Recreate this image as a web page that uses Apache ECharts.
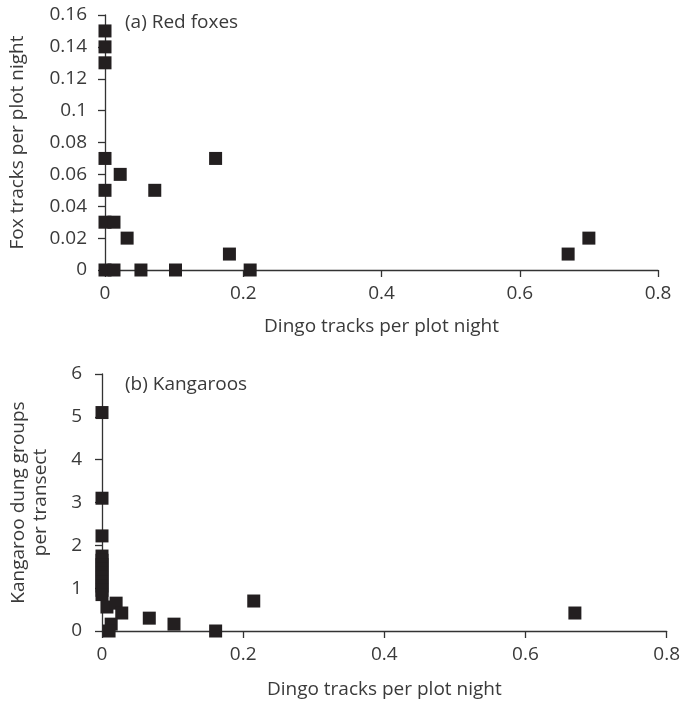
<!DOCTYPE html>
<html><head><meta charset="utf-8">
<script src="https://cdn.jsdelivr.net/npm/echarts@6/dist/echarts.min.js"></script>
<style>html,body{margin:0;padding:0;background:#fff}#c{width:683px;height:705px}</style>
</head><body><div id="c"></div>
<script>
// Panel (a) Red foxes: dingo tracks (x) vs fox tracks (y)
const foxX = [0, 0, 0, 0, 0.022, 0, 0.072, 0.16, 0, 0.013, 0.032, 0.18, 0, 0.013, 0.052, 0.102, 0.21, 0.67, 0.70];
const foxY = [0.15, 0.14, 0.13, 0.07, 0.06, 0.05, 0.05, 0.07, 0.03, 0.03, 0.02, 0.01, 0, 0, 0, 0, 0, 0.01, 0.02];
// Panel (b) Kangaroos: dingo tracks (x) vs kangaroo dung groups (y)
const kanX = [0, 0, 0, 0, 0, 0, 0, 0, 0, 0, 0, 0, 0, 0.007, 0.02, 0.028, 0.013, 0.01, 0.067, 0.102, 0.161, 0.215, 0.67];
const kanY = [5.1, 3.1, 2.22, 1.75, 1.65, 1.55, 1.45, 1.35, 1.25, 1.15, 1.05, 0.95, 0.85, 0.56, 0.65, 0.42, 0.16, 0, 0.3, 0.16, 0, 0.7, 0.42];
const xTicks = [0, 0.2, 0.4, 0.6, 0.8];
const foxYTicks = [0, 0.02, 0.04, 0.06, 0.08, 0.1, 0.12, 0.14, 0.16];
const kanYTicks = [0, 1, 2, 3, 4, 5, 6];

const FONT = '"Open Sans", "Noto Sans", sans-serif';
const TXT = '#3a3a3a';
const FS = 19;
const axisCommon = {
  axisLine: {show: true, onZero: false, lineStyle: {color: '#333', width: 1.3}},
  axisTick: {show: true, length: 7, lineStyle: {color: '#333', width: 1.3}},
  splitLine: {show: false},
  nameTextStyle: {color: TXT, fontSize: FS, fontFamily: FONT}
};
const xLabel = {color: TXT, fontSize: FS, fontFamily: FONT, margin: 14, formatter: v => String(+v.toFixed(2))};
const yLabel = {color: TXT, fontSize: FS, fontFamily: FONT, margin: 18, formatter: v => String(+v.toFixed(2))};
const chart = echarts.init(document.getElementById('c'));
chart.setOption({
  animation: false,
  backgroundColor: '#fff',
  grid: [
    {left: 103, top: 15, width: 555, height: 255},
    {left: 101, top: 374, width: 566, height: 257}
  ],
  title: [
    {text: '(a) Red foxes', left: 120, top: 8, textStyle: {color: TXT, fontSize: FS, fontWeight: 'normal', fontFamily: FONT}},
    {text: '(b) Kangaroos', left: 120, top: 370, textStyle: {color: TXT, fontSize: FS, fontWeight: 'normal', fontFamily: FONT}}
  ],
  xAxis: [
    Object.assign({}, axisCommon, {gridIndex: 0, type: 'value', min: xTicks[0], max: xTicks[xTicks.length-1], interval: 0.2,
      name: 'Dingo tracks per plot night', nameLocation: 'middle', nameGap: 47, axisLabel: xLabel}),
    Object.assign({}, axisCommon, {gridIndex: 1, type: 'value', min: xTicks[0], max: xTicks[xTicks.length-1], interval: 0.2,
      name: 'Dingo tracks per plot night', nameLocation: 'middle', nameGap: 49, axisLabel: xLabel})
  ],
  yAxis: [
    Object.assign({}, axisCommon, {gridIndex: 0, type: 'value', min: foxYTicks[0], max: foxYTicks[foxYTicks.length-1], interval: 0.02,
      name: 'Fox tracks per plot night', nameLocation: 'middle', nameGap: 78, axisLabel: yLabel}),
    Object.assign({}, axisCommon, {gridIndex: 1, type: 'value', min: kanYTicks[0], max: kanYTicks[kanYTicks.length-1], interval: 1,
      name: 'Kangaroo dung groups\nper transect', nameLocation: 'middle', nameGap: 50,
      axisLabel: Object.assign({}, yLabel, {margin: 20}),
      nameTextStyle: Object.assign({}, axisCommon.nameTextStyle, {lineHeight: 22})})
  ],
  series: [
    {type: 'scatter', xAxisIndex: 0, yAxisIndex: 0, symbol: 'rect', symbolSize: 13, itemStyle: {color: '#231f20', opacity: 1},
      data: foxX.map((x, i) => [x, foxY[i]])},
    {type: 'scatter', xAxisIndex: 1, yAxisIndex: 1, symbol: 'rect', symbolSize: 13, itemStyle: {color: '#231f20', opacity: 1},
      data: kanX.map((x, i) => [x, kanY[i]])}
  ]
});
</script></body></html>
